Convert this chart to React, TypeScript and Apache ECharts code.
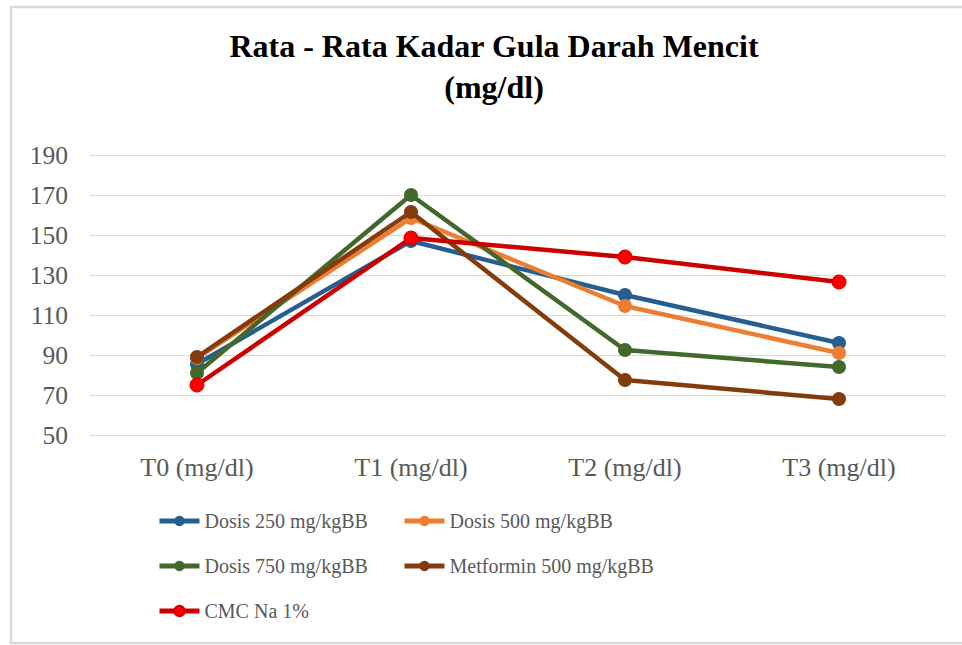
import React, { useEffect, useRef } from "react";
import * as echarts from "echarts";

const categories = ["T0 (mg/dl)", "T1 (mg/dl)", "T2 (mg/dl)", "T3 (mg/dl)"];
const dosis250 = [85.5, 147, 120, 96];
const dosis500 = [88.5, 158.5, 114.5, 91];
const dosis750 = [81, 170, 92.5, 84];
const metformin = [89, 161.5, 77.5, 68];
const cmc = [75, 148.5, 139, 126.5];

const seriesNames = [
  "Dosis 250 mg/kgBB",
  "Dosis 500 mg/kgBB",
  "Dosis 750 mg/kgBB",
  "Metformin 500 mg/kgBB",
  "CMC Na 1%",
];
const seriesData = [dosis250, dosis500, dosis750, metformin, cmc];
const lineColors = ["#255E91", "#ED7D31", "#43682B", "#843C0C", "#CC0000"];
const markerColors = ["#255E91", "#ED7D31", "#43682B", "#843C0C", "#FF0000"];

const FONT = "'Liberation Serif', 'Times New Roman', serif";

export default function App() {
  const ref = useRef<HTMLDivElement>(null);
  useEffect(() => {
    document.body.style.margin = "0";
    if (!ref.current) return;
    const chart = echarts.init(ref.current, undefined, { renderer: "svg" });
    const legendPos = [
      [157, 511],
      [402, 511],
      [157, 556],
      [402, 556],
      [157, 601],
    ];
    chart.setOption({
      animation: false,
      backgroundColor: "#ffffff",
      title: {
        text: "Rata - Rata Kadar Gula Darah Mencit\n(mg/dl)",
        left: 494,
        textAlign: "center",
        top: 25,
        padding: 0,
        textStyle: {
          fontFamily: FONT,
          fontWeight: "bold",
          fontSize: 32,
          color: "#000000",
          lineHeight: 41,
        },
      },
      graphic: [
        {
          type: "rect",
          shape: { x: 11, y: 7, width: 970, height: 636 },
          style: { fill: "none", stroke: "#D9D9D9", lineWidth: 2.5 },
          silent: true,
        },
      ],
      legend: seriesNames.map((n, i) => ({
        data: [n],
        left: legendPos[i][0],
        top: legendPos[i][1],
        itemWidth: 40,
        itemHeight: 13,
        itemGap: 0,
        padding: 0,
        lineStyle: { width: 5 },
        textStyle: { fontFamily: FONT, fontSize: 20, color: "#595959" },
      })),
      grid: { left: 90, right: 16, top: 155, bottom: 210, containLabel: false },
      xAxis: {
        type: "category",
        data: categories,
        boundaryGap: true,
        axisLine: { show: true, lineStyle: { color: "#D9D9D9", width: 1 } },
        axisTick: { show: false },
        axisLabel: { fontFamily: FONT, fontSize: 26, color: "#595959", margin: 19 },
      },
      yAxis: {
        type: "value",
        min: 50,
        max: 190,
        interval: 20,
        axisLine: { show: false },
        axisTick: { show: false },
        splitLine: { lineStyle: { color: "#D9D9D9", width: 1 } },
        axisLabel: { fontFamily: FONT, fontSize: 25.5, color: "#595959", margin: 22 },
      },
      series: seriesNames.map((n, i) => ({
        name: n,
        type: "line",
        data: seriesData[i],
        symbol: "circle",
        symbolSize: 14,
        lineStyle: { color: lineColors[i], width: 4.5 },
        itemStyle: { color: markerColors[i], borderColor: lineColors[i], borderWidth: i === 4 ? 1 : 0 },
        z: 2 + i,
      })),
    });
    return () => chart.dispose();
  }, []);
  return <div ref={ref} style={{ width: 962, height: 645 }} />;
}
